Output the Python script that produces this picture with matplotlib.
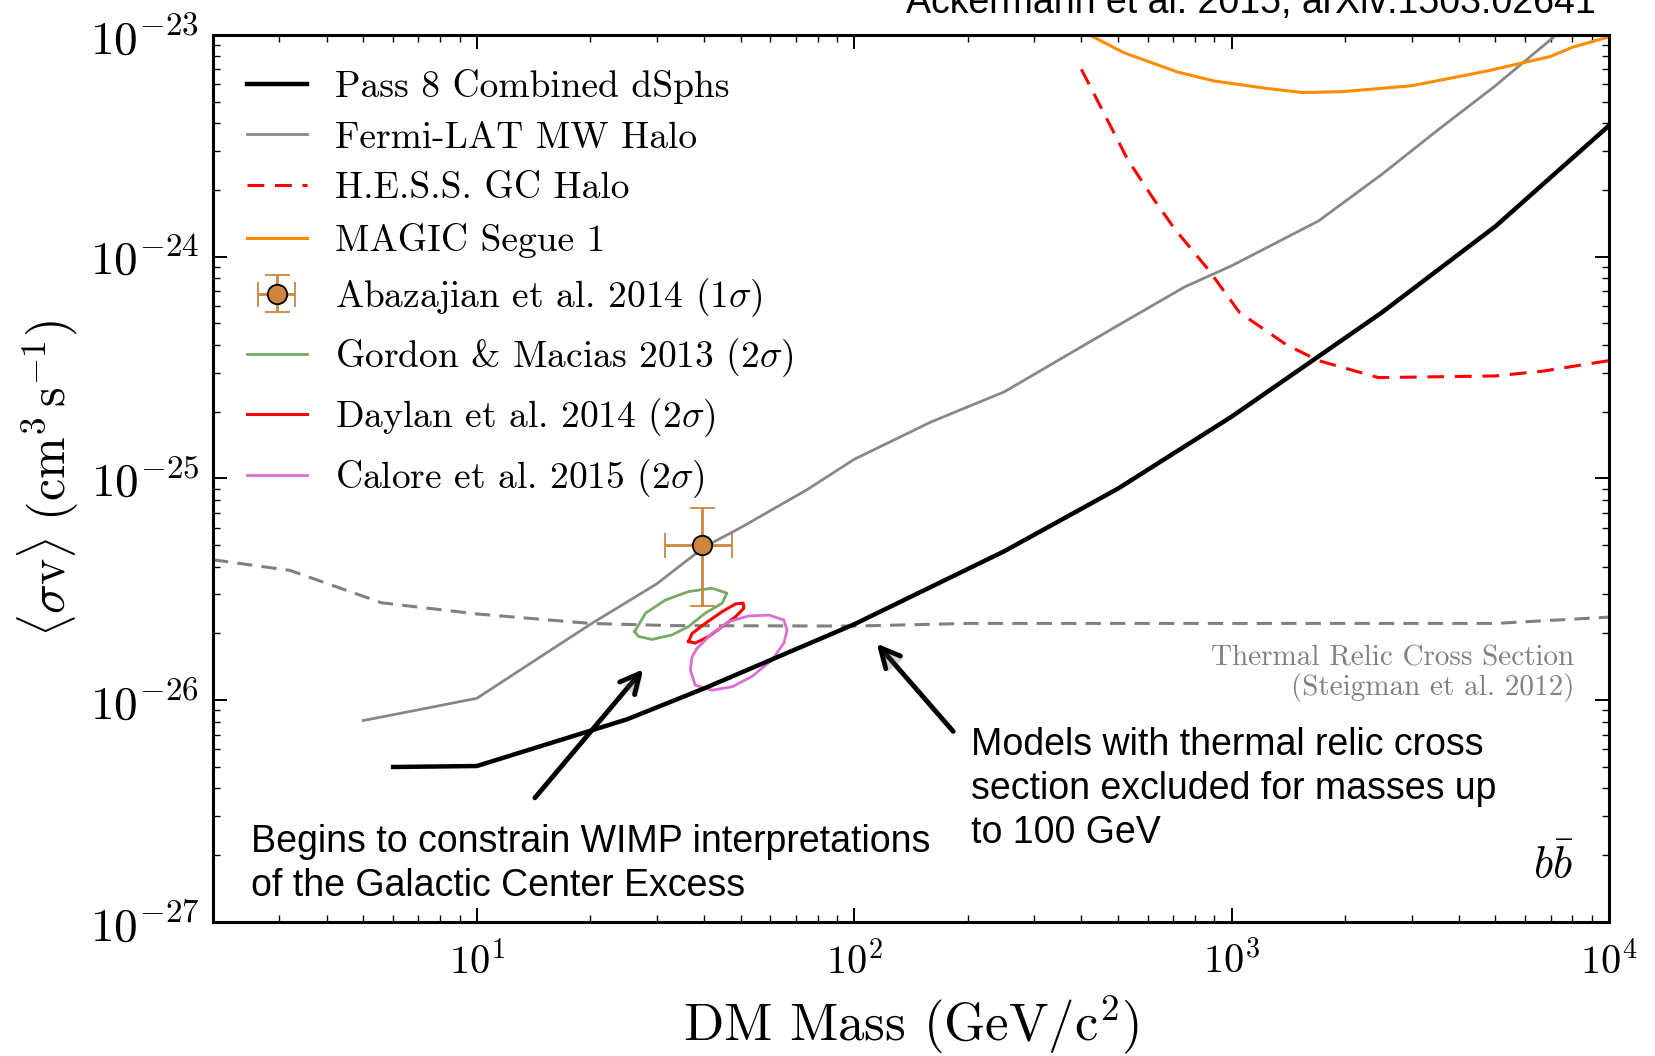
import matplotlib
matplotlib.use('Agg')
import matplotlib.pyplot as plt
import matplotlib.patheffects as pe
import numpy as np

plt.rcParams['font.family'] = 'serif'
plt.rcParams['font.serif'] = ['cmr10']
plt.rcParams['mathtext.fontset'] = 'cm'
plt.rcParams['axes.formatter.use_mathtext'] = True

# Pass 8 combined dSphs (b bbar)
dsph_mass = [6, 10, 25, 40, 100, 250, 500, 1000, 2500, 5000, 10000]
dsph_sv = [5.0e-27, 5.05e-27, 8.2e-27, 1.13e-26, 2.2e-26, 4.7e-26, 9.0e-26, 1.9e-25, 5.6e-25, 1.37e-24, 3.9e-24]

# Fermi-LAT MW halo
mw_mass = [5, 6, 10, 15, 20, 30, 40, 50, 75, 100, 160, 250, 500, 750, 1000, 1700, 2500, 3500, 5000, 7500]
mw_sv = [8.1e-27, 8.6e-27, 1.02e-26, 1.6e-26, 2.2e-26, 3.35e-26, 4.9e-26, 6.0e-26, 8.9e-26, 1.22e-25,
         1.8e-25, 2.46e-25, 4.9e-25, 7.3e-25, 9.1e-25, 1.45e-24, 2.35e-24, 3.7e-24, 5.9e-24, 1.05e-23]

# H.E.S.S. GC halo
hess_mass = [400, 530, 620, 710, 870, 1050, 1400, 1700, 2450, 5000, 6700, 10000]
hess_sv = [7.0e-24, 2.75e-24, 1.83e-24, 1.32e-24, 8.7e-25, 5.6e-25, 4.0e-25, 3.4e-25, 2.85e-25, 2.9e-25, 3.05e-25, 3.4e-25]

# MAGIC Segue 1
magic_mass = [420, 520, 720, 900, 1230, 1540, 1960, 3000, 4800, 7000, 8000, 10000]
magic_sv = [1.0e-23, 8.3e-24, 6.8e-24, 6.2e-24, 5.75e-24, 5.5e-24, 5.55e-24, 5.9e-24, 6.9e-24, 8.0e-24, 8.8e-24, 9.8e-24]

# thermal relic cross section (Steigman et al. 2012)
relic_mass = [2, 3.2, 5.6, 10, 20, 33, 100, 200, 1000, 5000, 10000]
relic_sv = [4.3e-26, 3.85e-26, 2.75e-26, 2.45e-26, 2.22e-26, 2.17e-26, 2.16e-26, 2.22e-26, 2.22e-26, 2.22e-26, 2.37e-26]

# Abazajian et al. 2014 (1 sigma)
aba_mass, aba_lo, aba_hi = 39.5, 31.5, 47.5
aba_sv, aba_sv_lo, aba_sv_hi = 5.0e-26, 2.65e-26, 7.35e-26

# contours (2 sigma)
gordon_mass = [26.2, 28.0, 31.6, 36.4, 42.0, 46.0, 44.7, 40.3, 36.4, 32.9, 29.1, 26.8, 26.2]
gordon_sv = [2.04e-26, 2.47e-26, 2.83e-26, 3.09e-26, 3.20e-26, 3.04e-26, 2.74e-26, 2.47e-26, 2.15e-26,
             1.97e-26, 1.88e-26, 1.94e-26, 2.04e-26]
daylan_mass = [36.4, 37.2, 40.3, 44.7, 48.5, 50.8, 51.0, 48.5, 44.7, 41.2, 37.9, 36.4]
daylan_sv = [1.84e-26, 2.0e-26, 2.22e-26, 2.51e-26, 2.72e-26, 2.74e-26, 2.6e-26, 2.38e-26, 2.15e-26,
             1.94e-26, 1.81e-26, 1.84e-26]
calore_mass = [38.3, 42.0, 46.5, 52.6, 59.4, 65.1, 66.4, 65.1, 60.6, 53.6, 47.5, 42.0, 37.9, 36.8, 37.2, 38.3]
calore_sv = [1.71e-26, 2.0e-26, 2.26e-26, 2.40e-26, 2.42e-26, 2.30e-26, 2.07e-26, 1.81e-26, 1.52e-26,
             1.28e-26, 1.15e-26, 1.11e-26, 1.17e-26, 1.37e-26, 1.57e-26, 1.71e-26]

fig = plt.figure(figsize=(16.55, 10.56), dpi=100)
ax = fig.add_axes([0.1287, 0.1269, 0.9722 - 0.1287, 0.9669 - 0.1269])

ax.plot(dsph_mass, dsph_sv, color='black', lw=3.2, label='Pass 8 Combined dSphs', zorder=5)
ax.plot(mw_mass, mw_sv, color='#888888', lw=2.0, label='Fermi-LAT MW Halo')
ax.plot(hess_mass, hess_sv, color='red', lw=2.2, ls=(0, (5.5, 3.5)), label='H.E.S.S. GC Halo')
ax.plot(magic_mass, magic_sv, color='#FF8C00', lw=2.2, label='MAGIC Segue 1')
ax.plot(relic_mass, relic_sv, color='#808080', lw=2.2, ls=(0, (5, 3)))
ax.errorbar([aba_mass], [aba_sv],
            xerr=[[aba_mass - aba_lo], [aba_hi - aba_mass]],
            yerr=[[aba_sv - aba_sv_lo], [aba_sv_hi - aba_sv]],
            fmt='o', color='#CD853F', ecolor='#CD853F', mec='black', mew=1.3, ms=14,
            elinewidth=2, capsize=9, capthick=2, label=r'Abazajian et al. 2014 (1$\sigma$)', zorder=6)
ax.plot(gordon_mass, gordon_sv, color='#77AA62', lw=2.0, label=r'Gordon & Macias 2013 (2$\sigma$)')
ax.plot(daylan_mass, daylan_sv, color='red', lw=2.2, label=r'Daylan et al. 2014 (2$\sigma$)')
ax.plot(calore_mass, calore_sv, color='#DA70D6', lw=2.0, label=r'Calore et al. 2015 (2$\sigma$)')

ax.set_xscale('log')
ax.set_yscale('log')
ax.set_xlim(2, 1e4)
ax.set_ylim(1e-27, 1e-23)

for s in ax.spines.values():
    s.set_linewidth(2.2)
ax.tick_params(which='both', direction='in', top=True, right=True)
ax.tick_params(which='major', length=10, width=1.4)
ax.tick_params(which='minor', length=5, width=1.0)
ax.tick_params(axis='x', which='major', labelsize=29, pad=14)
ax.tick_params(axis='y', which='major', labelsize=34, pad=10)

ax.set_xlabel(r'DM Mass (GeV/c$^2$)', fontsize=38, labelpad=8)
ax.set_ylabel(r'$\langle\sigma \mathrm{v}\rangle\ (\mathrm{cm}^3\,\mathrm{s}^{-1})$', fontsize=36, labelpad=6)

handles, labels = ax.get_legend_handles_labels()
order = ['Pass 8 Combined dSphs', 'Fermi-LAT MW Halo', 'H.E.S.S. GC Halo', 'MAGIC Segue 1',
         r'Abazajian et al. 2014 (1$\sigma$)', r'Gordon & Macias 2013 (2$\sigma$)',
         r'Daylan et al. 2014 (2$\sigma$)', r'Calore et al. 2015 (2$\sigma$)']
hmap = dict(zip(labels, handles))
ax.legend([hmap[l] for l in order], order, loc='upper left', frameon=False, fontsize=27,
          handlelength=1.6, handletextpad=0.75, labelspacing=0.47, borderaxespad=0.5)

ax.text(0.975, 0.312, 'Thermal Relic Cross Section\n(Steigman et al. 2012)', transform=ax.transAxes,
        ha='right', va='top', fontsize=21, color='#808080', linespacing=1.05)
ax.text(0.975, 0.05, r'$b\bar{b}$', transform=ax.transAxes, ha='right', va='baseline', fontsize=32)

shadow = [pe.withSimplePatchShadow(offset=(2, -2), alpha=0.25)]
a1 = ax.annotate('', xy=(27.9, 1.41e-26), xytext=(14.1, 3.55e-27),
                 arrowprops=dict(arrowstyle='->', lw=3.5, color='black', mutation_scale=35))
a1.arrow_patch.set_path_effects(shadow)
a2 = ax.annotate('', xy=(113.5, 1.84e-26), xytext=(185, 7.08e-27),
                 arrowprops=dict(arrowstyle='->', lw=3.5, color='black', mutation_scale=35))
a2.arrow_patch.set_path_effects(shadow)

sans = ['Liberation Sans', 'DejaVu Sans']
ax.text(0.027, 0.110, 'Begins to constrain WIMP interpretations\nof the Galactic Center Excess',
        transform=ax.transAxes, ha='left', va='top', fontsize=27, family=sans, linespacing=1.28)
ax.text(0.543, 0.220, 'Models with thermal relic cross\nsection excluded for masses up\nto 100 GeV',
        transform=ax.transAxes, ha='left', va='top', fontsize=27, family=sans, linespacing=1.28)

fig.text(0.9644, 1 - 13 / 1056, 'Ackermann et al. 2015, arXiv:1503.02641', ha='right', va='baseline',
         fontsize=27, family=sans)

fig.savefig('out.png', dpi=100)
